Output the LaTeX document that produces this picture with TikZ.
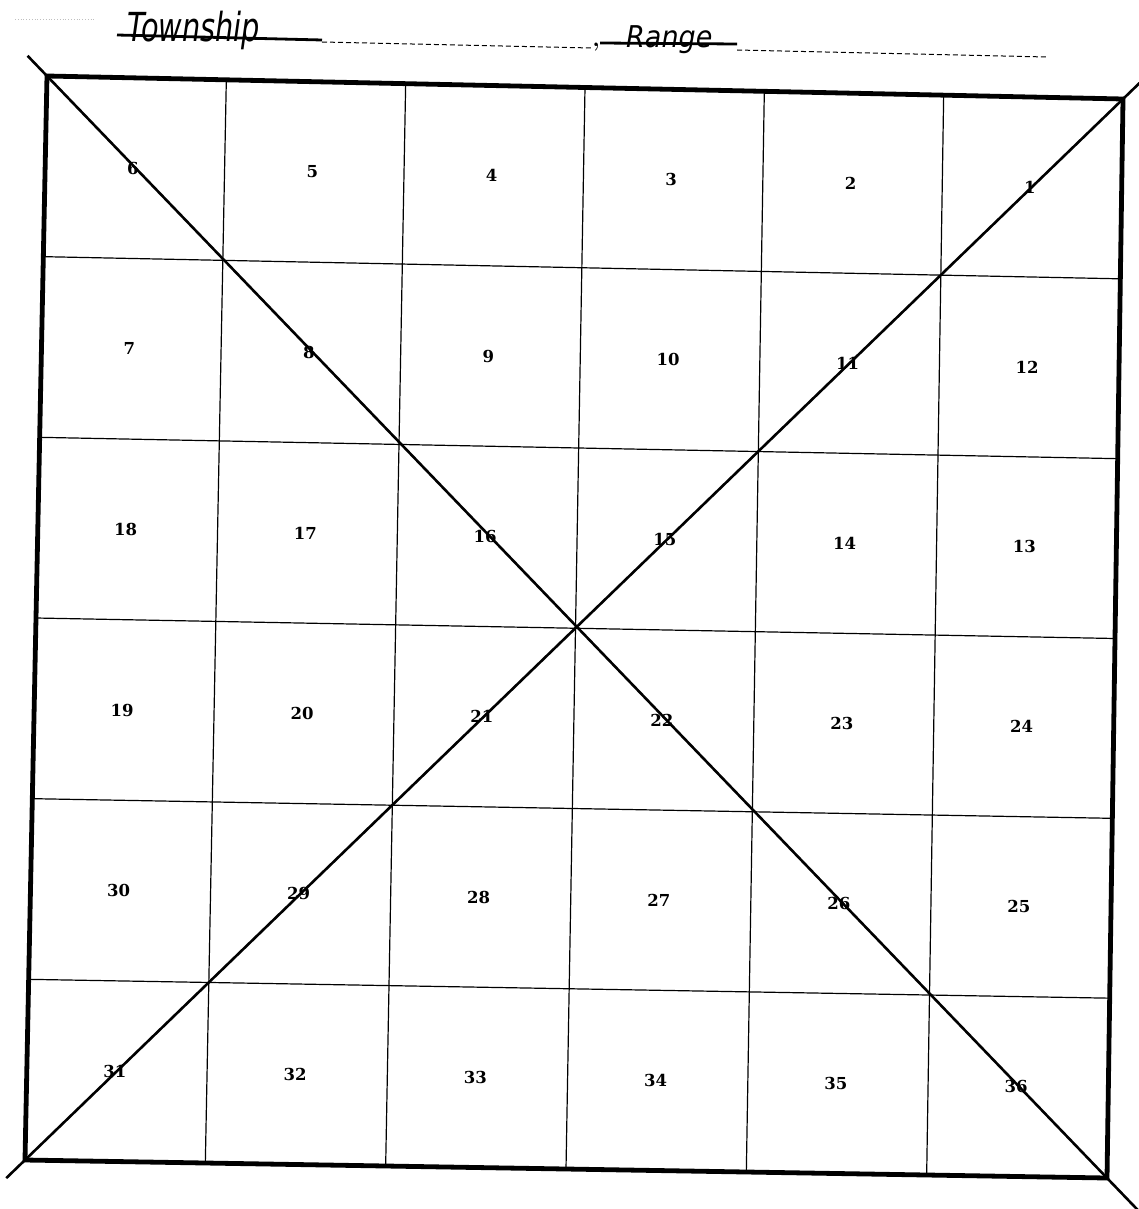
\documentclass[tikz,border=0pt]{standalone}
\usepackage{fontspec}
\usepackage{graphicx}
\newfontfamily\numfont{DejaVu Serif}
\newfontfamily\hdrfont{DejaVu Sans}
\usetikzlibrary{calc}
\begin{document}
\begin{tikzpicture}[x=1pt,y=-1pt,
  border/.style={line width=4.8pt, line join=miter, line cap=rect},
  gridline/.style={line width=1.2pt},
  diag/.style={line width=2.6pt},
  secnum/.style={font=\fontsize{16.5}{16.5}\selectfont\numfont\bfseries, inner sep=0pt},
  hdr/.style={font=\hdrfont\itshape, inner sep=0pt, anchor=base west},
  strike/.style={line width=2.8pt},
  blank/.style={dash pattern=on 5pt off 3pt, line width=1pt}]
\useasboundingbox (0,0) rectangle (1139,1209);
% corners
\coordinate (TL) at (47,76);
\coordinate (TR) at (1123,99);
\coordinate (BR) at (1107,1178);
\coordinate (BL) at (25,1160);
% grid lines
\foreach \k in {1,...,5}{
  \coordinate (t\k) at ($(TL)!\k/6!(TR)$);
  \coordinate (b\k) at ($(BL)!\k/6!(BR)$);
  \coordinate (l\k) at ($(TL)!\k/6!(BL)$);
  \coordinate (r\k) at ($(TR)!\k/6!(BR)$);
  \draw[gridline] (t\k) -- (b\k);
  \draw[gridline] (l\k) -- (r\k);
}
% diagonals
\draw[diag, shorten <=-28pt, shorten >=-45pt] (TL) -- (BR);
\draw[diag, shorten <=-26pt, shorten >=-23pt] (BL) -- (TR);
% border
\draw[border] (TL) -- (TR) -- (BR) -- (BL) -- cycle;
% section numbers
\foreach \n [count=\c from 0] in {6,5,4,3,2,1,7,8,9,10,11,12,18,17,16,15,14,13,19,20,21,22,23,24,30,29,28,27,26,25,31,32,33,34,35,36}{
  \pgfmathtruncatemacro\row{int(\c/6)}
  \pgfmathtruncatemacro\col{mod(\c,6)}
  \pgfmathsetmacro\uu{(\col+0.5)/6}
  \pgfmathsetmacro\vv{(\row+0.5)/6}
  \coordinate (ct) at ($(TL)!\uu!(TR)$);
  \coordinate (cb) at ($(BL)!\uu!(BR)$);
  \node[secnum, xshift=-2pt] (s\n) at ($(ct)!\vv!(cb)$) {\n};
}
% header
\coordinate (dots) at (15,19);
\coordinate (dote) at (95,19);
\draw[gray!50, dotted, line width=0.8pt] (dots) -- (dote);
\node[hdr] (twp) at (127,42) {\scalebox{0.72}[1]{\fontsize{40}{40}\selectfont Township}};
\coordinate (ts) at (117,35);
\coordinate (te) at (322,40);
\draw[strike] (ts) -- (te);
\coordinate (d1s) at (322,42);
\coordinate (d1e) at (592,48);
\draw[blank] (d1s) -- (d1e);
\node[font=\fontsize{24}{24}\selectfont\bfseries, inner sep=0pt, anchor=base] (comma) at (596,47) {,};
\coordinate (rs) at (600,43);
\coordinate (re) at (737,44);
\draw[strike] (rs) -- (re);
\node[hdr] (rng) at (626,48) {\scalebox{0.9}[1]{\fontsize{30}{30}\selectfont Range}};
\coordinate (d2s) at (737,50);
\coordinate (d2e) at (1047,57);
\draw[blank] (d2s) -- (d2e);
\end{tikzpicture}
\end{document}
